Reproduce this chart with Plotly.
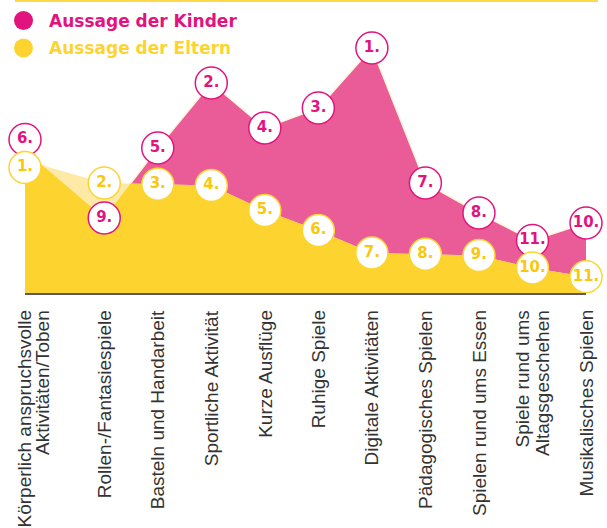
import plotly.graph_objects as go

# ---------------- data ----------------
categories = [
    "Körperlich anspruchsvolle<br>Aktivitäten/Toben",
    "Rollen-/Fantasiespiele",
    "Basteln und Handarbeit",
    "Sportliche Aktivität",
    "Kurze Ausflüge",
    "Ruhige Spiele",
    "Digitale Aktivitäten",
    "Pädagogisches Spielen",
    "Spielen rund ums Essen",
    "Spiele rund ums<br>Altagsgeschehen",
    "Musikalisches Spielen",
]
kinder = [57, 30, 58, 84, 66, 74, 98, 44, 32, 21, 28]
eltern = [53, 44, 43.5, 43, 33, 25, 16, 15.5, 15, 10, 6.5]
kinder_rank = ["6.", "9.", "5.", "2.", "4.", "3.", "1.", "7.", "8.", "11.", "10."]
eltern_rank = ["1.", "2.", "3.", "4.", "5.", "6.", "7.", "8.", "9.", "10.", "11."]
legend_names = ["Aussage der Kinder", "Aussage der Eltern"]

# ---------------- layout constants ----------------
W, H = 607, 528
ML, MR, MT, MB = 25, 21, 0, 235
PW, PH = W - ML - MR, H - MT - MB
first_gap = 1.48                     # wider first category step
xpos = [0.0] + [first_gap + i for i in range(len(categories) - 1)]
xmax = xpos[-1]
ymax = 117.2
px_per_unit = PH / ymax

PINK_FILL = "#E95C98"
PINK = "#E2137F"
YELLOW = "#FDD42F"
YELLOW_TXT = "#F9C80E"
LIGHT_YELLOW = "#FEEAA6"
CREAM = "#FFF4DA"

# marker offsets (pixels) to keep first-category labels apart
kinder_label_dy = {0: 11}
eltern_label_dy = {0: -7}

# ---------------- lower envelope (min of both series) ----------------
mx, my = [], []
for i in range(len(xpos)):
    mx.append(xpos[i]); my.append(min(kinder[i], eltern[i]))
    if i < len(xpos) - 1:
        d0 = kinder[i] - eltern[i]
        d1 = kinder[i + 1] - eltern[i + 1]
        if d0 * d1 < 0:
            t = d0 / (d0 - d1)
            mx.append(xpos[i] + t * (xpos[i + 1] - xpos[i]))
            my.append(kinder[i] + t * (kinder[i + 1] - kinder[i]))

fig = go.Figure()
fig.add_trace(go.Scatter(x=xpos, y=kinder, mode="lines", fill="tozeroy",
                         fillcolor=PINK_FILL, line=dict(color=CREAM, width=1.5),
                         hoverinfo="skip", showlegend=False))
fig.add_trace(go.Scatter(x=xpos, y=eltern, mode="lines", fill="tozeroy",
                         fillcolor=LIGHT_YELLOW, line=dict(width=0),
                         hoverinfo="skip", showlegend=False))
fig.add_trace(go.Scatter(x=mx, y=my, mode="lines", fill="tozeroy",
                         fillcolor=YELLOW, line=dict(width=0),
                         hoverinfo="skip", showlegend=False))

def marker_trace(vals, ranks, dy, col, tcol):
    ys = [v + dy.get(i, 0) / px_per_unit for i, v in enumerate(vals)]
    return go.Scatter(
        x=xpos, y=ys, mode="markers+text", text=ranks,
        textposition="middle center",
        textfont=dict(family="DejaVu Sans", size=15, color=tcol, weight="bold"),
        marker=dict(size=32, color="white", line=dict(color=col, width=1.5)),
        cliponaxis=False, hoverinfo="skip", showlegend=False)

fig.add_trace(marker_trace(kinder, kinder_rank, kinder_label_dy, PINK, PINK))
fig.add_trace(marker_trace(eltern, eltern_rank, eltern_label_dy, YELLOW, YELLOW_TXT))

shapes = []
annotations = []

# top rule
shapes.append(dict(type="line", xref="paper", yref="paper",
                   x0=(15 - ML) / PW, x1=(598 - ML) / PW,
                   y0=1 - 1 / PH, y1=1 - 1 / PH,
                   line=dict(color="#FFD84A", width=2)))

# legend
for k, (name, col) in enumerate(zip(legend_names, [PINK, YELLOW])):
    cy = 1 - (20.5 + 27.5 * k) / PH
    shapes.append(dict(type="circle", xref="paper", yref="paper",
                       xsizemode="pixel", ysizemode="pixel",
                       xanchor=(23.5 - ML) / PW, yanchor=cy,
                       x0=-9.5, x1=9.5, y0=-9.5, y1=9.5,
                       fillcolor=col, line=dict(width=0)))
    annotations.append(dict(text=name, xref="paper", yref="paper",
                            x=(47 - ML) / PW, y=cy, xanchor="left", yanchor="middle",
                            showarrow=False,
                            font=dict(family="DejaVu Sans", size=17, color=col,
                                      weight="bold")))

# category labels (rotated), multi-line ones split with tight spacing
label_xshift = {0: 8}
line_gap = 19
for i, cat in enumerate(categories):
    lines = cat.split("<br>")
    n = len(lines)
    for j, ln in enumerate(lines):
        off = (j - (n - 1) / 2) * line_gap + label_xshift.get(i, 0)
        annotations.append(dict(text=ln, x=xpos[i], xref="x", yref="paper", y=0,
                                xanchor="center", yanchor="top", yshift=-15,
                                xshift=off, textangle=-90, showarrow=False,
                                font=dict(family="Liberation Sans", size=19,
                                          color="#333333")))

fig.update_layout(
    width=W, height=H,
    margin=dict(l=ML, r=MR, t=MT, b=MB),
    paper_bgcolor="white", plot_bgcolor="white",
    shapes=shapes, annotations=annotations,
    xaxis=dict(range=[0, xmax], showgrid=False, zeroline=False,
               showticklabels=False, ticks="", showline=True,
               linecolor="#5A5A5A", linewidth=2, fixedrange=True),
    yaxis=dict(range=[0, ymax], visible=False, fixedrange=True),
    showlegend=False,
)

fig.write_html("out.html", config={"displayModeBar": False},
               post_script="document.body.style.margin='0';document.body.style.overflow='hidden';")
